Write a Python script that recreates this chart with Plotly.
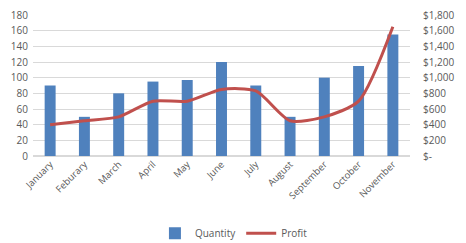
import plotly.graph_objects as go

months = ["January", "Feburary", "March", "April", "May", "June", "July",
          "August", "September", "October", "November"]
quantity = [90, 50, 80, 95, 97, 120, 90, 50, 100, 115, 155]
profit = [400, 450, 500, 700, 700, 850, 830, 450, 500, 700, 1650]

left_ticks = [0, 20, 40, 60, 80, 100, 120, 140, 160, 180]
right_ticks = [0, 200, 400, 600, 800, 1000, 1200, 1400, 1600, 1800]
right_labels = ["$-", "$200", "$400", "$600", "$800", "$1,000", "$1,200",
                "$1,400", "$1,600", "$1,800"]

font = dict(family="Open Sans, Liberation Sans, sans-serif", size=10, color="#595959")

fig = go.Figure()
fig.add_trace(go.Bar(x=months, y=quantity, name="Quantity",
                     marker=dict(color="#4F81BD", line=dict(width=0)),
                     width=0.32, yaxis="y"))
fig.add_trace(go.Scatter(x=months, y=profit, name="Profit", mode="lines",
                         line=dict(color="#C0504D", width=3, shape="spline", smoothing=0.7),
                         yaxis="y2"))

fig.update_layout(
    width=466, height=243,
    margin=dict(l=33, r=56, t=15, b=87, autoexpand=False),
    paper_bgcolor="white", plot_bgcolor="white",
    font=font,
    showlegend=True,
    legend=dict(orientation="h", x=0.533, xanchor="center", y=0.04, yanchor="middle",
                yref="container",
                font=dict(size=10, color="#595959"), traceorder="normal",
                itemwidth=30),
    xaxis=dict(tickangle=-45, showgrid=False, showline=False, ticks="", automargin=False,
               tickfont=dict(size=9.5, color="#595959")),
    yaxis=dict(range=[0, 180], tickvals=left_ticks, showgrid=True, gridcolor="#D9D9D9",
               gridwidth=1, zeroline=True, zerolinecolor="#D9D9D9", showline=False,
               ticks="", automargin=False, ticklabelstandoff=4,
               tickfont=dict(size=10, color="#595959")),
    yaxis2=dict(range=[0, 1800], tickvals=right_ticks, ticktext=right_labels,
                overlaying="y", side="right", showgrid=False, zeroline=False,
                showline=False, ticks="", ticklabelstandoff=12, automargin=False,
                tickfont=dict(size=10, color="#595959")),
    bargap=0.68,
)

fig.write_html("out.html")
